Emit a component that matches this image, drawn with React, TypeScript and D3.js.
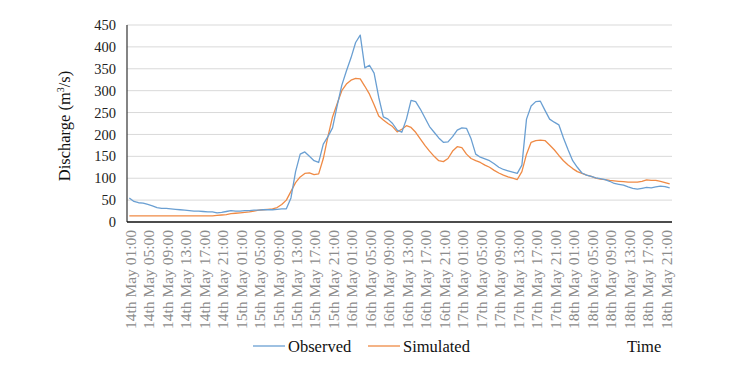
import React, { useEffect, useRef } from "react";
import * as d3 from "d3";

// hourly values, 14th May 01:00 -> 18th May 22:00
const observed = [
  55, 47, 44, 43, 40, 37, 33, 31, 31, 30, 29, 28, 27, 26, 25, 25, 24, 23, 23, 21,
  22, 24, 26, 25, 25, 26, 26, 27, 27, 28, 28, 28, 29, 30, 30, 55, 115, 155, 160, 150,
  140, 136, 178, 195, 215, 265, 312, 345, 375, 410, 427, 352, 358, 340, 285, 240, 235, 225, 210, 205,
  235, 278, 275, 258, 238, 218, 205, 192, 182, 183, 195, 210, 215, 214, 190, 155, 148, 144, 140, 133,
  125, 120, 117, 114, 111, 130, 235, 265, 275, 276, 255, 235, 228, 222, 192, 165, 140, 125, 112, 107,
  104, 101, 99, 97, 93, 88, 86, 84, 80, 77, 75, 77, 79, 78, 80, 82, 81, 78,
];

const simulated = [
  14, 14, 14, 14, 14, 14, 14, 14, 14, 14, 14, 14, 14, 14, 14, 14, 14, 14, 14, 15,
  16, 17, 19, 20, 21, 22, 23, 25, 27, 28, 29, 30, 33, 40, 50, 70, 90, 103, 111, 112,
  108, 110, 145, 195, 240, 270, 300, 315, 324, 328, 327, 310, 292, 268, 242, 233, 225, 218, 206, 212,
  220, 216, 205, 190, 175, 162, 150, 140, 138, 145, 162, 172, 170, 155, 145, 140, 136, 130, 125, 118,
  112, 107, 103, 100, 97, 115, 155, 182, 186, 187, 186, 176, 165, 152, 140, 130, 122, 115, 111, 107,
  104, 100, 98, 97, 95, 94, 93, 92, 91, 91, 91, 93, 96, 95, 95, 93, 90, 87,
];

const days = ["14th May", "15th May", "16th May", "17th May", "18th May"];
const tickHours = ["01:00", "05:00", "09:00", "13:00", "17:00", "21:00"];
const yTicks = [0, 50, 100, 150, 200, 250, 300, 350, 400, 450];

const hours = d3.range(observed.length);
const tickLabels = days.flatMap((d) => tickHours.map((h) => `${d} ${h}`));

const W = 748;
const H = 371;
const margin = { left: 127, right: 76, top: 25, bottom: 149 };
const font = "'Liberation Serif', 'Times New Roman', serif";
const blue = "#6a9fd2";
const orange = "#ef8a45";

export default function App() {
  const ref = useRef<SVGSVGElement>(null);

  useEffect(() => {
    const svg = d3.select(ref.current);
    svg.selectAll("*").remove();

    const x = d3
      .scalePoint<number>()
      .domain(hours)
      .range([margin.left, W - margin.right])
      .padding(0.5);

    const y = d3
      .scaleLinear()
      .domain([0, 450])
      .range([H - margin.bottom, margin.top]);

    // gridlines
    svg
      .append("g")
      .selectAll("line")
      .data(yTicks.filter((t) => t > 0))
      .join("line")
      .attr("x1", margin.left)
      .attr("x2", W - margin.right)
      .attr("y1", (d) => y(d))
      .attr("y2", (d) => y(d))
      .attr("stroke", "#d9d9d9")
      .attr("stroke-width", 1);

    // y labels
    svg
      .append("g")
      .selectAll("text")
      .data(yTicks)
      .join("text")
      .attr("x", margin.left - 11)
      .attr("y", (d) => y(d))
      .attr("dy", "0.35em")
      .attr("text-anchor", "end")
      .attr("font-family", font)
      .attr("font-size", 14.5)
      .attr("fill", "#222")
      .text((d) => d);

    // x labels, every 4 hours
    svg
      .append("g")
      .selectAll("text")
      .data(tickLabels)
      .join("text")
      .attr("transform", (d, i) => `translate(${x(i * 4)! + 1},${H - margin.bottom + 8}) rotate(-90)`)
      .attr("dy", "0.35em")
      .attr("text-anchor", "end")
      .attr("font-family", font)
      .attr("font-size", 15.5)
      .attr("fill", "#8c8c8c")
      .text((d) => d);

    // axes lines
    svg
      .append("line")
      .attr("x1", margin.left)
      .attr("x2", margin.left)
      .attr("y1", y(450))
      .attr("y2", y(0))
      .attr("stroke", "#333")
      .attr("stroke-width", 1.2);
    svg
      .append("line")
      .attr("x1", margin.left)
      .attr("x2", W - margin.right)
      .attr("y1", y(0))
      .attr("y2", y(0))
      .attr("stroke", "#111")
      .attr("stroke-width", 1.5);

    const line = (vals: number[]) =>
      d3
        .line<number>()
        .x((d, i) => x(i)!)
        .y((d) => y(d))(vals);

    svg
      .append("path")
      .attr("d", line(simulated))
      .attr("fill", "none")
      .attr("stroke", orange)
      .attr("stroke-width", 1.3)
      .attr("stroke-linejoin", "round");
    svg
      .append("path")
      .attr("d", line(observed))
      .attr("fill", "none")
      .attr("stroke", blue)
      .attr("stroke-width", 1.3)
      .attr("stroke-linejoin", "round");

    // y title
    svg
      .append("text")
      .attr("transform", `translate(70,126) rotate(-90)`)
      .attr("text-anchor", "middle")
      .attr("font-family", font)
      .attr("font-size", 16.5)
      .attr("fill", "#111")
      .call((t) => {
        t.append("tspan").text("Discharge (m");
        t.append("tspan").attr("font-size", 10).attr("dy", -6).text("3");
        t.append("tspan").attr("dy", 6).text("/s)");
      });

    // legend
    const legend = [
      { name: "Observed", color: blue, x: 253 },
      { name: "Simulated", color: orange, x: 368 },
    ];
    const lg = svg.append("g");
    legend.forEach((l) => {
      lg.append("line")
        .attr("x1", l.x)
        .attr("x2", l.x + 32)
        .attr("y1", 346)
        .attr("y2", 346)
        .attr("stroke", l.color)
        .attr("stroke-width", 1.3);
      lg.append("text")
        .attr("x", l.x + 35)
        .attr("y", 346)
        .attr("dy", "0.35em")
        .attr("font-family", font)
        .attr("font-size", 16.5)
        .attr("fill", "#111")
        .text(l.name);
    });
    svg
      .append("text")
      .attr("x", 627)
      .attr("y", 346)
      .attr("dy", "0.35em")
      .attr("font-family", font)
      .attr("font-size", 16.5)
      .attr("fill", "#111")
      .text("Time");
  }, []);

  return (
    <svg
      ref={ref}
      width={W}
      height={H}
      style={{ position: "absolute", left: 0, top: 0, background: "#fff" }}
    />
  );
}
